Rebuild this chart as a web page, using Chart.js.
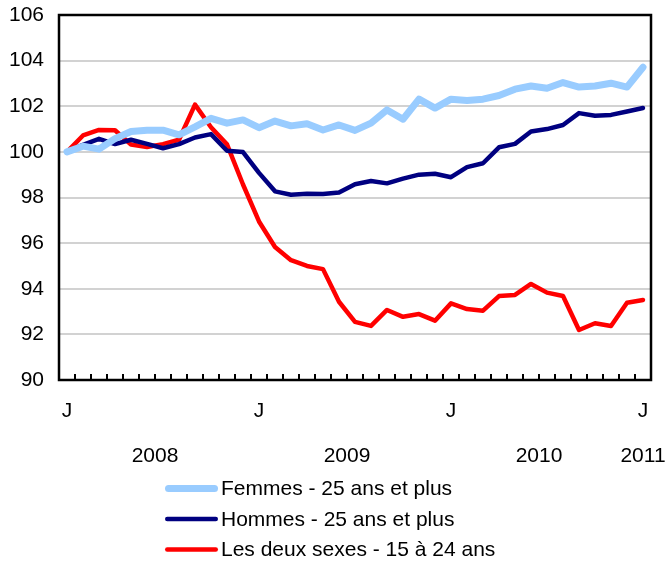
<!DOCTYPE html>
<html>
<head>
<meta charset="utf-8">
<script src="https://cdn.jsdelivr.net/npm/chart.js@4"></script>
<style>
  body { margin: 0; background: #fff; }
  #wrap { width: 666px; height: 565px; position: relative; }
</style>
</head>
<body>
<div id="wrap"><canvas id="chart"></canvas></div>
<script>
// months Jan 2008 -> Jan 2011
const categories = [
  '2008-01', '2008-02', '2008-03', '2008-04', '2008-05', '2008-06', '2008-07', '2008-08', '2008-09', '2008-10', '2008-11', '2008-12',
  '2009-01', '2009-02', '2009-03', '2009-04', '2009-05', '2009-06', '2009-07', '2009-08', '2009-09', '2009-10', '2009-11', '2009-12',
  '2010-01', '2010-02', '2010-03', '2010-04', '2010-05', '2010-06', '2010-07', '2010-08', '2010-09', '2010-10', '2010-11', '2010-12',
  '2011-01'
];

const femmes = [100.0, 100.25, 100.12, 100.58, 100.89, 100.95, 100.95, 100.75, 101.1, 101.47, 101.26, 101.4,
  101.06, 101.35, 101.14, 101.23, 100.96, 101.18, 100.94, 101.26, 101.84, 101.43, 102.31, 101.92,
  102.31, 102.25, 102.31, 102.47, 102.75, 102.89, 102.79, 103.04, 102.84, 102.89, 103.01, 102.84,
  103.71];

const hommes = [100.0, 100.31, 100.57, 100.34, 100.53, 100.35, 100.16, 100.34, 100.63, 100.78, 100.05, 99.99,
  99.08, 98.27, 98.12, 98.16, 98.15, 98.22, 98.58, 98.72, 98.62, 98.83, 99.0, 99.04,
  98.89, 99.33, 99.5, 100.2, 100.35, 100.89, 101.0, 101.18, 101.7, 101.58, 101.62, 101.77,
  101.92];

const deuxSexes = [100.0, 100.72, 100.96, 100.95, 100.32, 100.21, 100.34, 100.53, 102.07, 101.08, 100.33, 98.57,
  96.95, 95.83, 95.25, 95.0, 94.86, 93.43, 92.55, 92.37, 93.07, 92.77, 92.89, 92.6,
  93.36, 93.11, 93.04, 93.68, 93.73, 94.21, 93.83, 93.68, 92.19, 92.49, 92.37, 93.39,
  93.51];

const seriesNames = ['Femmes - 25 ans et plus', 'Hommes - 25 ans et plus', 'Les deux sexes - 15 à 24 ans'];

// tick labels
const monthTickIndex = [0, 12, 24, 36];
const monthTickLabels = ['J', 'J', 'J', 'J'];
const yearTickPos = [5.5, 17.5, 29.5, 36];
const yearTickLabels = ['2008', '2009', '2010', '2011'];
const yTicks = [90, 92, 94, 96, 98, 100, 102, 104, 106];

const FONT = "'Liberation Sans', Arial, sans-serif";
const FONT_SIZE = 21;

// frame + small inner ticks on the bottom edge
const framePlugin = {
  id: 'frame',
  beforeDatasetsDraw(chart) {
    const { ctx, chartArea: a } = chart;
    const xs = chart.scales.x;
    ctx.save();
    ctx.strokeStyle = '#000';
    ctx.lineWidth = 2;
    for (let k = 1; k < categories.length; k++) {
      const px = xs.getPixelForValue(k - 0.5);
      ctx.beginPath();
      ctx.moveTo(px, a.bottom);
      ctx.lineTo(px, a.bottom - 6);
      ctx.stroke();
    }
    ctx.lineWidth = 2.5;
    ctx.strokeRect(a.left, a.top, a.right - a.left, a.bottom - a.top);
    ctx.restore();
  }
};

// legend stacked in rows under the axes
const legendPlugin = {
  id: 'rowLegend',
  afterDraw(chart) {
    const { ctx } = chart;
    const top = chart.scales.x2.bottom;
    ctx.save();
    ctx.font = FONT_SIZE + 'px ' + FONT;
    ctx.textBaseline = 'middle';
    ctx.fillStyle = '#000';
    chart.data.datasets.forEach((ds, i) => {
      const y = top + 18.5 + i * 30.5;
      const w = ds.borderWidth;
      ctx.strokeStyle = ds.borderColor;
      ctx.lineWidth = w;
      ctx.lineCap = 'round';
      ctx.beginPath();
      ctx.moveTo(165 + w / 2, y);
      ctx.lineTo(218 - w / 2, y);
      ctx.stroke();
      ctx.fillText(ds.label, 221, y + 1);
    });
    ctx.restore();
  }
};

const noPad = scale => {
  scale.paddingLeft = 0;
  scale.paddingRight = 0;
  scale.paddingTop = 0;
  scale.paddingBottom = 0;
};

const ctx = document.getElementById('chart').getContext('2d');

new Chart(ctx, {
  type: 'line',
  data: {
    labels: categories,
    datasets: [
      {
        label: seriesNames[0],
        data: femmes,
        borderColor: '#99CCFF',
        borderWidth: 7,
        pointRadius: 0,
        borderCapStyle: 'round',
        borderJoinStyle: 'round',
        tension: 0
      },
      {
        label: seriesNames[1],
        data: hommes,
        borderColor: '#000080',
        borderWidth: 4.5,
        pointRadius: 0,
        borderCapStyle: 'round',
        borderJoinStyle: 'round',
        tension: 0
      },
      {
        label: seriesNames[2],
        data: deuxSexes,
        borderColor: '#FF0000',
        borderWidth: 4.5,
        pointRadius: 0,
        borderCapStyle: 'round',
        borderJoinStyle: 'round',
        tension: 0
      }
    ]
  },
  options: {
    responsive: true,
    maintainAspectRatio: false,
    animation: false,
    layout: {
      padding: { top: 15, right: 15, left: 0, bottom: 95 }
    },
    plugins: {
      legend: { display: false },
      tooltip: { enabled: false }
    },
    scales: {
      x: {
        type: 'category',
        offset: true,
        grid: { display: false, drawTicks: false },
        border: { display: false },
        ticks: {
          autoSkip: false,
          maxRotation: 0,
          padding: 19,
          color: '#000',
          font: { family: FONT, size: FONT_SIZE },
          callback: function (value, index) {
            const k = monthTickIndex.indexOf(index);
            return k === -1 ? '' : monthTickLabels[k];
          }
        },
        afterFit: scale => { scale.height = 45; noPad(scale); }
      },
      x2: {
        type: 'linear',
        position: 'bottom',
        weight: 1,
        min: -0.5,
        max: categories.length - 0.5,
        grid: { display: false, drawTicks: false },
        border: { display: false },
        afterBuildTicks: scale => {
          scale.ticks = yearTickPos.map(v => ({ value: v }));
        },
        ticks: {
          autoSkip: false,
          maxRotation: 0,
          padding: 19,
          color: '#000',
          font: { family: FONT, size: FONT_SIZE },
          callback: (value, index) => yearTickLabels[index]
        },
        afterFit: scale => { scale.height = 45; noPad(scale); }
      },
      y: {
        min: 90,
        max: 106,
        afterBuildTicks: scale => {
          scale.ticks = yTicks.map(v => ({ value: v }));
        },
        grid: { color: '#d2d2d2', lineWidth: 2, drawTicks: false },
        border: { display: false },
        ticks: {
          padding: 15,
          color: '#000',
          font: { family: FONT, size: FONT_SIZE }
        },
        afterFit: scale => { scale.width = 59; noPad(scale); }
      }
    }
  },
  plugins: [framePlugin, legendPlugin]
});
</script>
</body>
</html>
